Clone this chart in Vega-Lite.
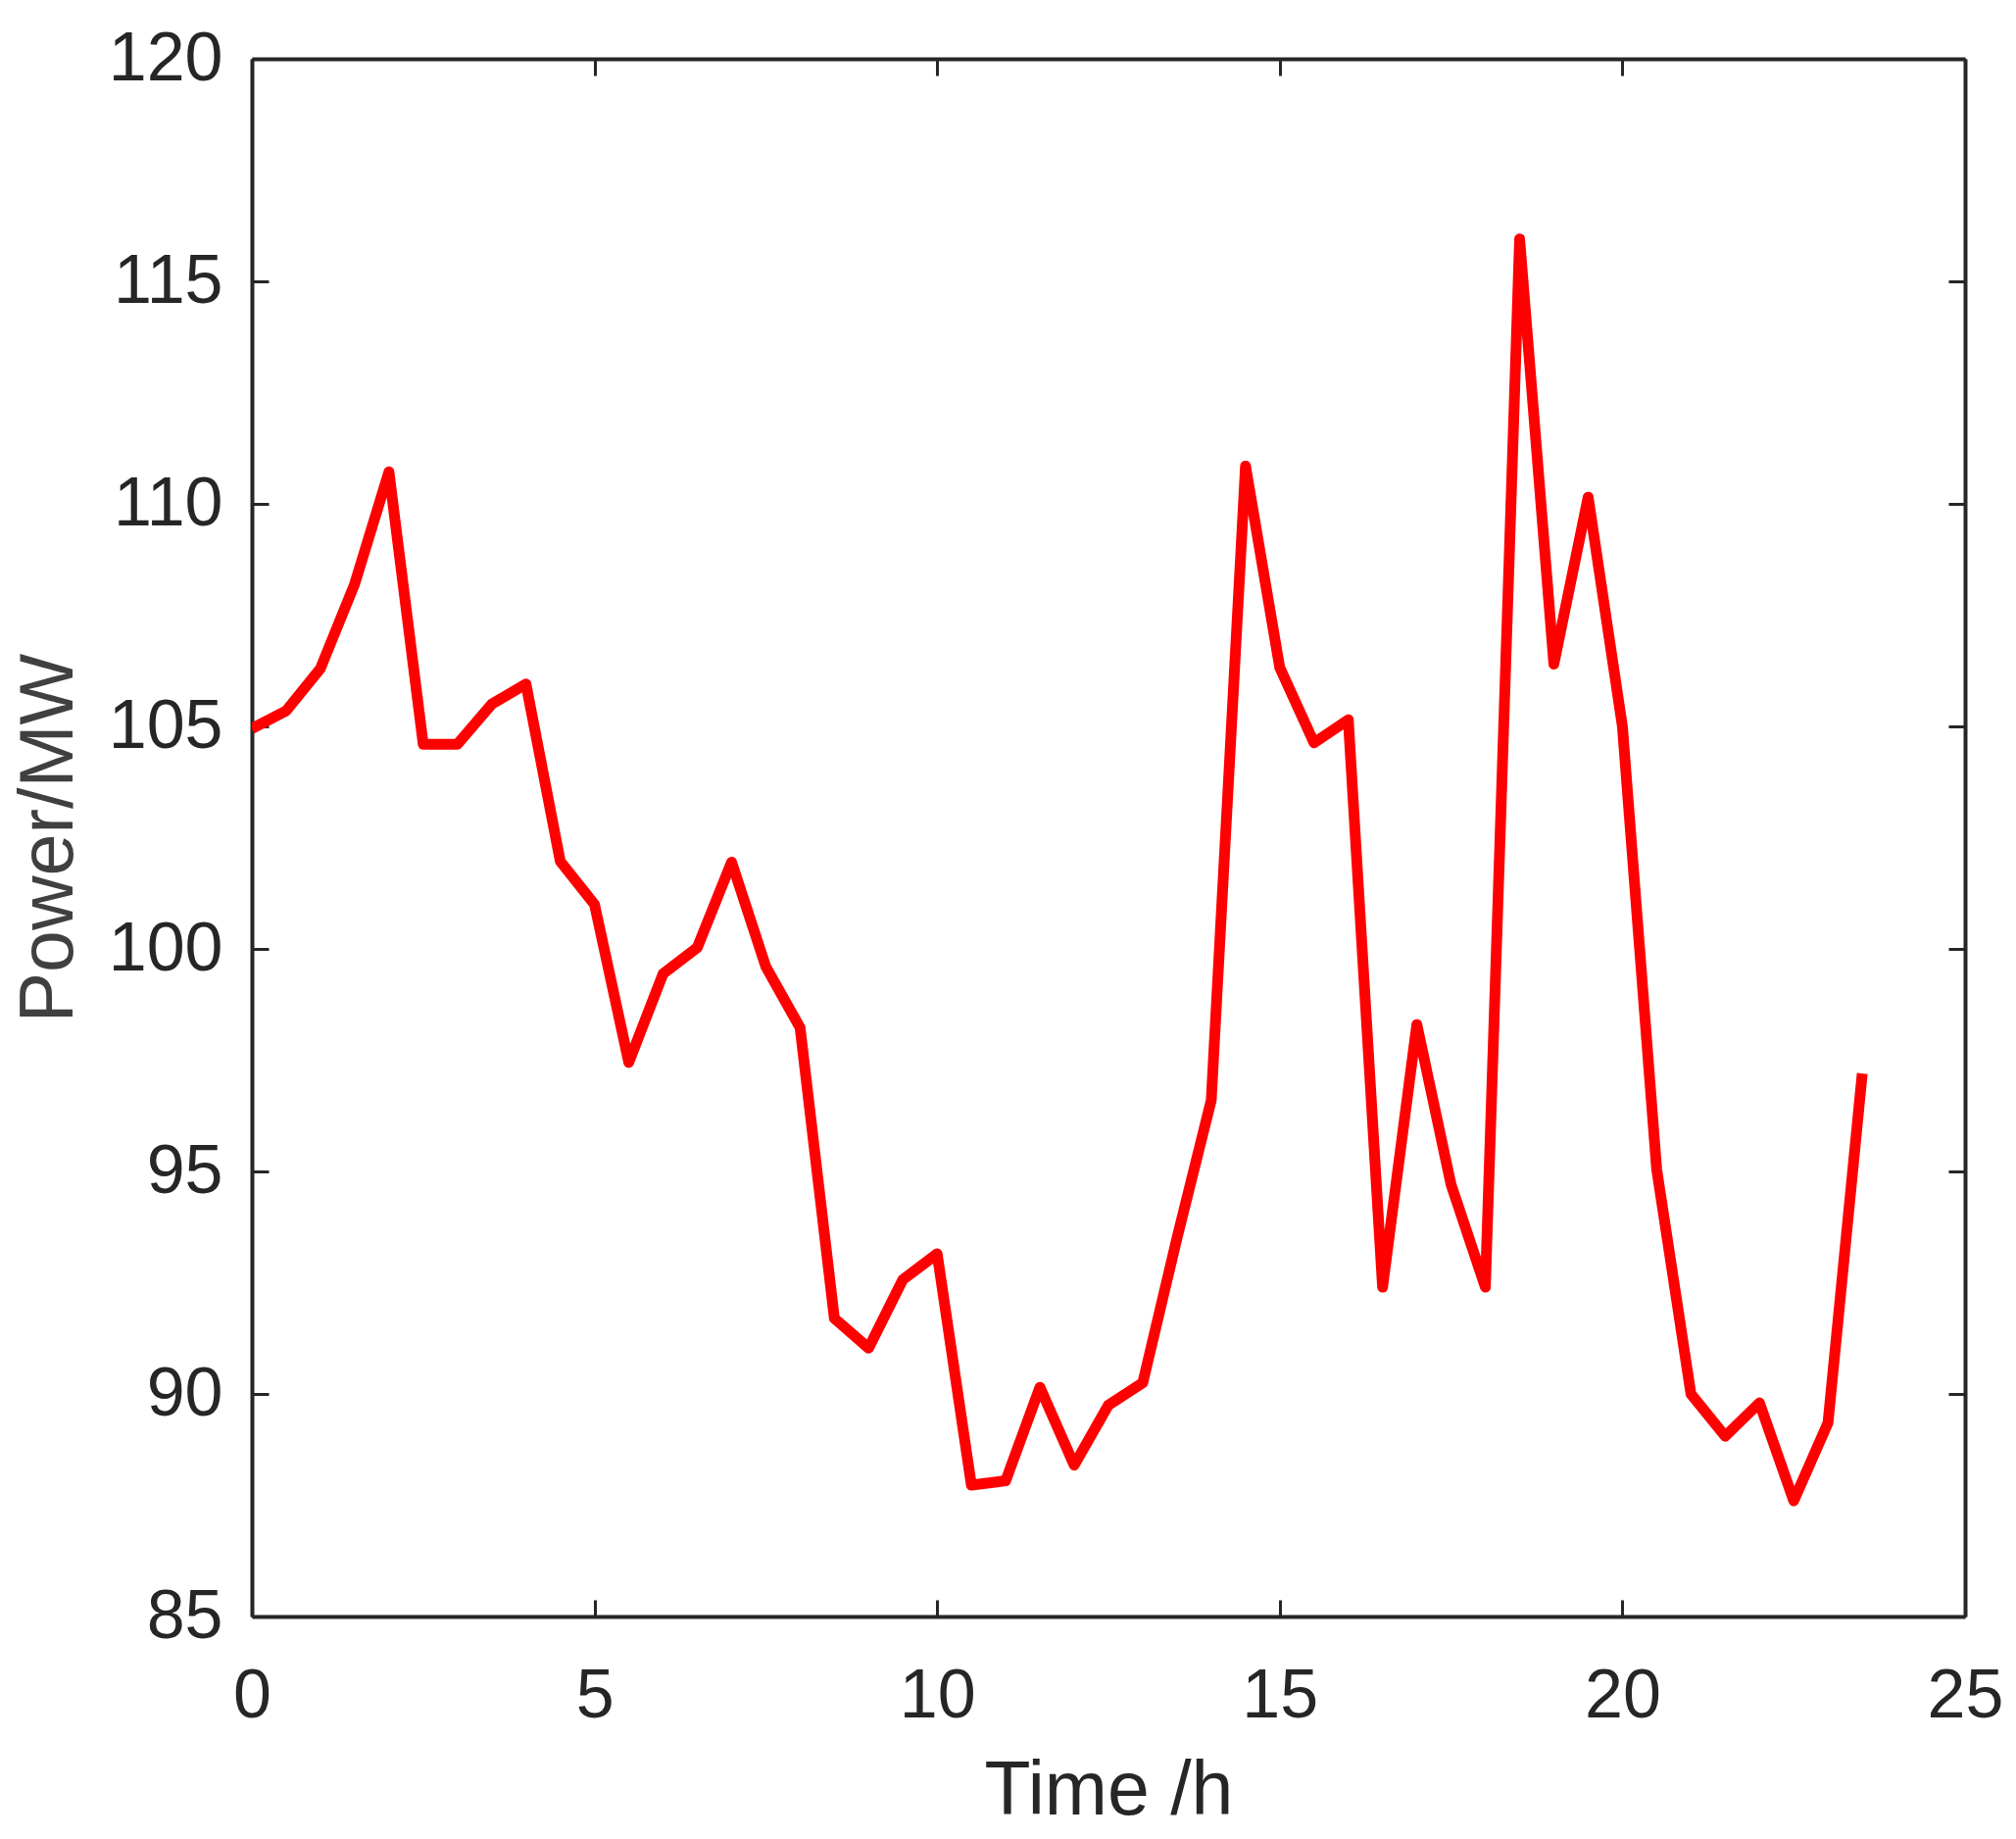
{
  "$schema": "https://vega.github.io/schema/vega-lite/v6.json",
  "autosize": "none",
  "width": 1748,
  "height": 1589,
  "padding": {"left": 257, "top": 60, "right": 52, "bottom": 227},
  "background": "white",
  "config": {
    "view": {"stroke": null},
    "axis": {
      "grid": false,
      "domainColor": "#262626",
      "domainWidth": 4,
      "tickColor": "#262626",
      "tickWidth": 3,
      "tickSize": -17,
      "labelFont": "Liberation Sans",
      "labelFontSize": 70,
      "labelColor": "#262626",
      "titleFont": "Liberation Sans",
      "titleFontSize": 77,
      "titleFontWeight": "normal"
    }
  },
  "data": {
    "values": [
      {"t": 0, "p": 104.95}, {"t": 0.5, "p": 105.35}, {"t": 1, "p": 106.3}, {"t": 1.5, "p": 108.2},
      {"t": 2, "p": 110.72}, {"t": 2.5, "p": 104.6}, {"t": 3, "p": 104.6}, {"t": 3.5, "p": 105.5},
      {"t": 4, "p": 105.95}, {"t": 4.5, "p": 101.97}, {"t": 5, "p": 101.0}, {"t": 5.5, "p": 97.45},
      {"t": 6, "p": 99.44}, {"t": 6.5, "p": 100.03}, {"t": 7, "p": 101.95}, {"t": 7.5, "p": 99.6},
      {"t": 8, "p": 98.23}, {"t": 8.5, "p": 91.7}, {"t": 9, "p": 91.03}, {"t": 9.5, "p": 92.57},
      {"t": 10, "p": 93.15}, {"t": 10.5, "p": 87.95}, {"t": 11, "p": 88.05}, {"t": 11.5, "p": 90.15},
      {"t": 12, "p": 88.4}, {"t": 12.5, "p": 89.75}, {"t": 13, "p": 90.25}, {"t": 13.5, "p": 93.5},
      {"t": 14, "p": 96.6}, {"t": 14.5, "p": 110.85}, {"t": 15, "p": 106.32}, {"t": 15.5, "p": 104.63},
      {"t": 16, "p": 105.15}, {"t": 16.5, "p": 92.4}, {"t": 17, "p": 98.3}, {"t": 17.5, "p": 94.7},
      {"t": 18, "p": 92.4}, {"t": 18.5, "p": 115.95}, {"t": 19, "p": 106.4}, {"t": 19.5, "p": 110.15},
      {"t": 20, "p": 105.0}, {"t": 20.5, "p": 95.05}, {"t": 21, "p": 90.0}, {"t": 21.5, "p": 89.05},
      {"t": 22, "p": 89.8}, {"t": 22.5, "p": 87.6}, {"t": 23, "p": 89.35}, {"t": 23.5, "p": 97.2}
    ]
  },
  "layer": [
    {
      "mark": {"type": "line", "color": "#ff0000", "strokeWidth": 11, "strokeJoin": "round", "clip": true},
      "encoding": {
        "x": {
          "field": "t", "type": "quantitative",
          "scale": {"domain": [0, 25], "nice": false, "zero": false},
          "axis": {"orient": "bottom", "title": "Time /h", "values": [0, 5, 10, 15, 20, 25], "labelPadding": 64, "titlePadding": 24, "titleColor": "#262626", "labelFlush": false}
        },
        "y": {
          "field": "p", "type": "quantitative",
          "scale": {"domain": [85, 120], "nice": false, "zero": false},
          "axis": {"orient": "left", "title": "Power/MW", "values": [85, 90, 95, 100, 105, 110, 115, 120], "labelPadding": 47, "titlePadding": 21, "titleColor": "#404040", "labelFlush": false}
        }
      }
    },
    {
      "mark": {"type": "line", "opacity": 0},
      "encoding": {
        "x": {
          "field": "t", "type": "quantitative",
          "scale": {"domain": [0, 25], "nice": false, "zero": false},
          "axis": {"orient": "top", "title": null, "labels": false, "values": [0, 5, 10, 15, 20, 25]}
        },
        "y": {
          "field": "p", "type": "quantitative",
          "scale": {"domain": [85, 120], "nice": false, "zero": false},
          "axis": {"orient": "right", "title": null, "labels": false, "values": [85, 90, 95, 100, 105, 110, 115, 120]}
        }
      }
    }
  ],
  "resolve": {"axis": {"x": "independent", "y": "independent"}}
}
